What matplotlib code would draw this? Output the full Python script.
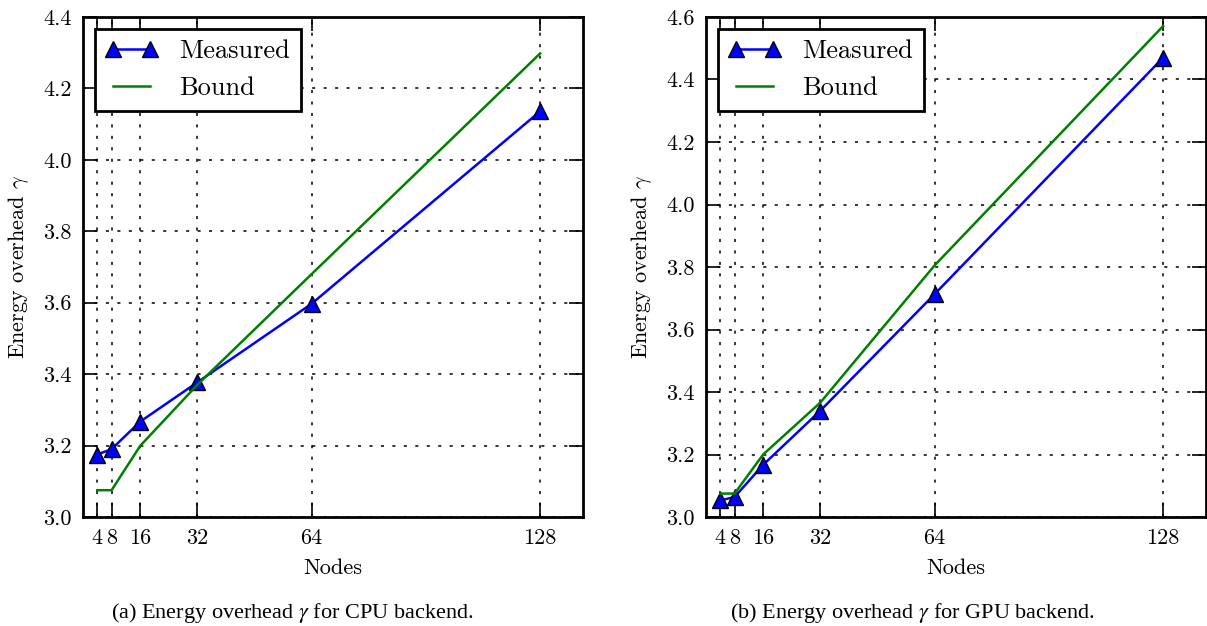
import matplotlib
matplotlib.use('Agg')
import matplotlib.pyplot as plt

nodes = [4, 8, 16, 32, 64, 128]
cpu_measured = [3.175, 3.19, 3.267, 3.377, 3.597, 4.136]
cpu_bound = [3.075, 3.075, 3.199, 3.37, 3.68, 4.298]
gpu_measured = [3.053, 3.064, 3.167, 3.34, 3.713, 4.47]
gpu_bound = [3.075, 3.075, 3.2, 3.366, 3.805, 4.571]
cpu_yticks = [3.0, 3.2, 3.4, 3.6, 3.8, 4.0, 4.2, 4.4]
gpu_yticks = [3.0, 3.2, 3.4, 3.6, 3.8, 4.0, 4.2, 4.4, 4.6]
captions = ['(a) Energy overhead $\\gamma$ for CPU backend.',
            '(b) Energy overhead $\\gamma$ for GPU backend.']

plt.rcParams['font.family'] = ['cmr10', 'DejaVu Serif']
plt.rcParams['mathtext.fontset'] = 'cm'
plt.rcParams['axes.formatter.use_mathtext'] = True

W, H = 1207, 626
fig = plt.figure(figsize=(W / 100, H / 100), dpi=100)


def panel(left, measured, bound, yticks, caption, cap_x):
    ax = fig.add_axes([left / W, (H - 517) / H, 500 / W, 500 / H])
    ax.plot(nodes, measured, color='b', lw=1.8, marker='^', ms=12,
            mfc='b', mec='k', mew=1.0, label='Measured')
    ax.plot(nodes, bound, color='g', lw=1.8, label='Bound')
    ax.set_xlim(0, 140)
    ax.set_ylim(yticks[0], yticks[-1])
    ax.set_xticks(nodes)
    ax.set_xticklabels([str(n) for n in nodes])
    ax.set_yticks(yticks)
    ax.set_yticklabels(['%.1f' % v for v in yticks])
    ax.grid(True, color='k', linestyle=(0, (2, 5.5)), lw=1.1)
    ax.tick_params(direction='in', length=10, width=1.2, top=True, right=True,
                   labelsize=16, pad=8)
    for s in ax.spines.values():
        s.set_linewidth(2)
    ax.set_xlabel('Nodes', fontsize=16, labelpad=8)
    ax.set_ylabel('Energy overhead $\\gamma$', fontsize=16, labelpad=9)
    leg = ax.legend(loc='upper left', numpoints=2, fontsize=19, fancybox=False,
                    framealpha=1, edgecolor='k', borderaxespad=0.45,
                    handlelength=2.0, handletextpad=0.8)
    leg.get_frame().set_linewidth(2)
    fig.text(cap_x / W, 1 - 613 / H, caption, ha='center', va='center',
             fontsize=16, family='Liberation Serif', math_fontfamily='stix')
    return ax


panel(83, cpu_measured, cpu_bound, cpu_yticks, captions[0], 292)
panel(706, gpu_measured, gpu_bound, gpu_yticks, captions[1], 912)

fig.savefig('out.png', dpi=100)
